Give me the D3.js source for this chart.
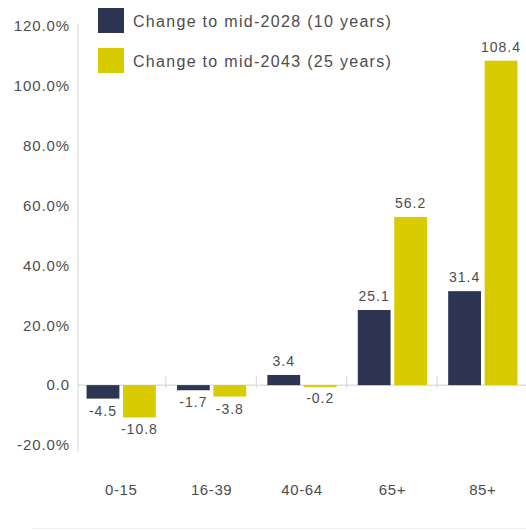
<!DOCTYPE html>
<html>
<head>
<meta charset="utf-8" />
<script src="https://d3js.org/d3.v7.min.js"></script>
<style>
  body { margin: 0; background: #fff; }
  text { font-family: "Liberation Sans", Arial, sans-serif; fill: #4d4d4d; }
</style>
</head>
<body>
<svg id="chart"></svg>
<script>
// data
var categories = ["0-15", "16-39", "40-64", "65+", "85+"];
var seriesNames = ["Change to mid-2028 (10 years)", "Change to mid-2043 (25 years)"];
var change2028 = [-4.5, -1.7, 3.4, 25.1, 31.4];
var change2043 = [-10.8, -3.8, -0.2, 56.2, 108.4];
var yTicks = [-20, 0, 20, 40, 60, 80, 100, 120];
var colors = ["#2d3553", "#d8cb00"];

var width = 526, height = 531;
var svg = d3.select("#chart").attr("width", width).attr("height", height);

var series = [change2028, change2043];
var data = categories.map(function(c, i) {
  return { cat: c, values: series.map(function(s, j) { return { k: j, v: s[i] }; }) };
});

var x = d3.scaleBand().domain(categories).range([76, 528]).padding(0);
var xInner = d3.scaleBand().domain([0, 1]).range([0, x.bandwidth()])
  .paddingInner(0.1).paddingOuter(0.29);
var y = d3.scaleLinear().domain([-20, 120]).range([445, 26]);

// vertical axis line
svg.append("line")
  .attr("x1", 78).attr("x2", 78)
  .attr("y1", 24).attr("y2", 452)
  .attr("stroke", "#d6d6d6");

// faint bottom rule
svg.append("line")
  .attr("x1", 33).attr("x2", width)
  .attr("y1", 528.5).attr("y2", 528.5)
  .attr("stroke", "#f0f0f0");

// y tick labels
svg.append("g").selectAll("text")
  .data(yTicks)
  .join("text")
  .attr("x", 70)
  .attr("y", function(d) { return y(d); })
  .attr("dy", "0.35em")
  .attr("text-anchor", "end")
  .style("font-size", "15px")
  .style("letter-spacing", "0.9px")
  .text(function(d) { return d === 0 ? "0.0" : d.toFixed(1) + "%"; });

// zero line with category dividers (under the bars)
svg.append("line")
  .attr("x1", 78).attr("x2", width)
  .attr("y1", y(0)).attr("y2", y(0))
  .attr("stroke", "#cfcfcf");

svg.append("g").selectAll("line")
  .data(categories.slice(1))
  .join("line")
  .attr("x1", function(d) { return x(d) - 0.5; })
  .attr("x2", function(d) { return x(d) - 0.5; })
  .attr("y1", y(0) - 9).attr("y2", y(0) + 3)
  .attr("stroke", "#d6d6d6");

// bars
var groups = svg.append("g").selectAll("g")
  .data(data)
  .join("g")
  .attr("transform", function(d) { return "translate(" + x(d.cat) + ",0)"; });

groups.selectAll("rect")
  .data(function(d) { return d.values; })
  .join("rect")
  .attr("x", function(d) { return xInner(d.k); })
  .attr("width", xInner.bandwidth())
  .attr("y", function(d) { return y(Math.max(0, d.v)); })
  .attr("height", function(d) { return Math.max(2, Math.abs(y(d.v) - y(0))); })
  .attr("fill", function(d) { return colors[d.k]; });

// value labels
groups.selectAll("text.val")
  .data(function(d) { return d.values; })
  .join("text")
  .attr("class", "val")
  .attr("x", function(d) { return xInner(d.k) + xInner.bandwidth() / 2; })
  .attr("y", function(d) { return d.v >= 0 ? y(d.v) - 9 : y(d.v) + 17; })
  .attr("text-anchor", "middle")
  .style("font-size", "14px")
  .style("letter-spacing", "1px")
  .text(function(d) { return d.v.toFixed(1); });

// x axis labels
svg.append("g").selectAll("text")
  .data(categories)
  .join("text")
  .attr("x", function(d) { return x(d) + x.bandwidth() / 2; })
  .attr("y", 495)
  .attr("text-anchor", "middle")
  .style("font-size", "15px")
  .style("letter-spacing", "0.6px")
  .text(function(d) { return d; });

// legend
var legend = svg.append("g").selectAll("g")
  .data(seriesNames)
  .join("g")
  .attr("transform", function(d, i) { return "translate(98," + (8 + i * 40) + ")"; });

legend.append("rect")
  .attr("width", 26).attr("height", 25)
  .attr("fill", function(d, i) { return colors[i]; });

legend.append("text")
  .attr("x", 35).attr("y", 13)
  .attr("dy", "0.35em")
  .style("font-size", "16px")
  .style("letter-spacing", "1.3px")
  .text(function(d) { return d; });
</script>
</body>
</html>
